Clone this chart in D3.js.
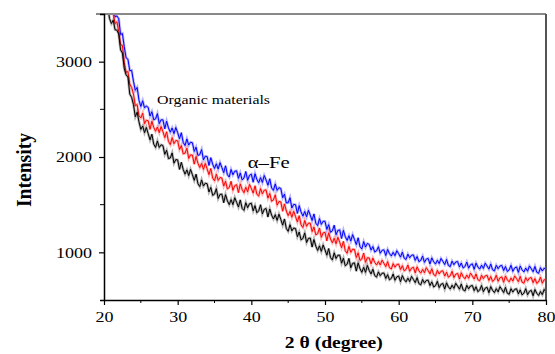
<!DOCTYPE html>
<html>
<head>
<meta charset="utf-8">
<script src="https://cdn.jsdelivr.net/npm/d3@7"></script>
<style>
  body { margin: 0; background: #fff; }
  svg text { font-family: "Liberation Serif", "Times New Roman", serif; fill: #000; }
</style>
</head>
<body>
<div id="chart"></div>
<script>
// 2θ sampling grid (degrees) and intensity readings, one value per 0.25°
const twoThetaStart = 20;
const twoThetaStep = 0.25;

const blueCounts = [
  3740, 3640, 3675, 3580, 3580, 3605, 3470, 3480, 3450, 3285, 3295, 3155, 3040, 3025, 2905, 2910,
  2795, 2700, 2730, 2595, 2530, 2590, 2515, 2535, 2520, 2430, 2475, 2390, 2400, 2455, 2350, 2390,
  2390, 2295, 2375, 2305, 2260, 2305, 2245, 2310, 2255, 2192, 2255, 2153, 2120, 2190, 2125, 2155,
  2150, 2059, 2103, 2016, 2025, 2078, 1970, 2008, 2005, 1911, 1993, 1924, 1880, 1929, 1873, 1941,
  1890, 1836, 1908, 1814, 1790, 1869, 1813, 1851, 1855, 1776, 1833, 1759, 1780, 1848, 1755, 1808,
  1820, 1735, 1825, 1765, 1730, 1784, 1733, 1806, 1760, 1704, 1772, 1676, 1650, 1718, 1650, 1678,
  1670, 1573, 1610, 1518, 1520, 1573, 1465, 1503, 1500, 1408, 1490, 1423, 1380, 1429, 1373, 1441,
  1390, 1334, 1403, 1306, 1280, 1354, 1293, 1326, 1325, 1240, 1290, 1210, 1225, 1285, 1185, 1230,
  1235, 1145, 1230, 1165, 1125, 1174, 1118, 1186, 1135, 1081, 1153, 1059, 1035, 1113, 1055, 1093,
  1083, 1024, 1061, 1004, 1016, 1059, 990, 1021, 1026, 966, 1030, 987, 962, 1000, 965, 1017,
  985, 950, 1003, 939, 925, 981, 943, 970, 973, 916, 956, 902, 916, 961, 895, 929,
  936, 878, 942, 901, 877, 917, 882, 936, 905, 872, 925, 863, 850, 908, 870, 899,
  903, 848, 888, 836, 851, 898, 834, 870, 879, 822, 887, 847, 824, 865, 831, 886,
  856, 824, 878, 817, 805, 864, 828, 857, 863, 809, 851, 799, 816, 864, 800, 837,
  847, 790, 856, 816, 794, 835, 802, 857, 828, 796, 852, 791, 780, 839, 804, 834,
  818
];

const redCounts = [
  3680, 3575, 3645, 3565, 3510, 3508, 3400, 3418, 3315, 3180, 3170, 2995, 2890, 2895, 2765, 2730,
  2660, 2538, 2550, 2433, 2410, 2460, 2350, 2385, 2380, 2290, 2375, 2310, 2270, 2315, 2255, 2320,
  2265, 2203, 2265, 2163, 2130, 2203, 2140, 2173, 2170, 2078, 2120, 2033, 2040, 2093, 1985, 2023,
  2020, 1925, 2005, 1935, 1890, 1933, 1870, 1933, 1875, 1815, 1880, 1780, 1750, 1820, 1755, 1785,
  1780, 1695, 1745, 1665, 1680, 1745, 1650, 1700, 1710, 1626, 1718, 1659, 1625, 1683, 1635, 1713,
  1670, 1621, 1698, 1609, 1590, 1669, 1613, 1651, 1655, 1569, 1618, 1536, 1550, 1603, 1495, 1533,
  1530, 1431, 1508, 1434, 1385, 1429, 1368, 1431, 1375, 1318, 1385, 1288, 1260, 1334, 1273, 1306,
  1305, 1218, 1265, 1183, 1195, 1256, 1158, 1204, 1210, 1120, 1205, 1140, 1100, 1148, 1090, 1158,
  1105, 1048, 1115, 1018, 990, 1063, 1000, 1033, 1030, 945, 995, 915, 930, 993, 895, 943,
  941, 879, 940, 894, 867, 904, 867, 918, 885, 850, 903, 839, 825, 882, 844, 872,
  876, 820, 860, 806, 821, 867, 801, 835, 843, 784, 848, 806, 782, 821, 786, 839,
  808, 775, 828, 766, 753, 811, 773, 802, 806, 751, 791, 739, 754, 801, 735, 771,
  779, 721, 786, 745, 722, 762, 728, 782, 752, 720, 774, 713, 701, 760, 724, 753,
  759, 705, 747, 695, 712, 760, 696, 733, 743, 686, 752, 712, 690, 731, 698, 753,
  724, 692, 748, 687, 676, 735, 700, 730, 736, 682, 725, 674, 691, 739, 676, 713,
  710
];

const blackCounts = [
  3615, 3533, 3575, 3453, 3400, 3435, 3335, 3330, 3290, 3123, 3090, 2928, 2860, 2840, 2660, 2625,
  2550, 2423, 2470, 2368, 2290, 2325, 2255, 2310, 2245, 2180, 2240, 2135, 2100, 2168, 2100, 2128,
  2120, 2028, 2070, 1983, 1990, 2043, 1935, 1973, 1970, 1870, 1945, 1870, 1820, 1865, 1805, 1870,
  1815, 1755, 1820, 1720, 1690, 1760, 1695, 1725, 1720, 1633, 1680, 1598, 1610, 1668, 1565, 1608,
  1610, 1520, 1605, 1540, 1500, 1553, 1500, 1573, 1525, 1475, 1550, 1460, 1440, 1521, 1468, 1509,
  1515, 1435, 1490, 1415, 1435, 1499, 1403, 1451, 1460, 1370, 1455, 1390, 1350, 1395, 1335, 1400,
  1345, 1285, 1350, 1250, 1220, 1290, 1225, 1255, 1250, 1164, 1213, 1131, 1145, 1204, 1103, 1146,
  1150, 1055, 1135, 1065, 1020, 1068, 1010, 1078, 1025, 970, 1040, 945, 920, 995, 935, 970,
  970, 886, 938, 859, 875, 936, 838, 884, 890, 803, 890, 828, 790, 843, 790, 863,
  810, 773, 823, 756, 740, 795, 755, 781, 783, 726, 766, 712, 726, 773, 707, 743,
  751, 692, 756, 714, 690, 729, 694, 747, 716, 682, 735, 672, 659, 716, 677, 705,
  708, 651, 690, 636, 650, 696, 630, 665, 673, 615, 680, 638, 615, 655, 622, 676,
  646, 614, 668, 607, 595, 654, 617, 647, 652, 598, 639, 588, 604, 652, 587, 624,
  633, 576, 641, 601, 578, 619, 585, 640, 610, 578, 633, 571, 560, 619, 583, 612,
  618, 564, 606, 554, 571, 619, 555, 591, 601, 544, 610, 570, 548, 589, 556, 611,
  580
];

const xTicks = [20, 30, 40, 50, 60, 70, 80];
const xMinorTicks = [25, 35, 45, 55, 65, 75];
const yTicks = [1000, 2000, 3000];
const yMinorTicks = [1500, 2500];

const series = [
  { name: 'blue', color: '#0000ff', values: blueCounts },
  { name: 'red', color: '#ff0000', values: redCounts },
  { name: 'black', color: '#000000', values: blackCounts },
];

const width = 555;
const height = 354;
const margin = { top: 14, right: 9, bottom: 54, left: 104 };
const innerW = width - margin.left - margin.right;
const innerH = height - margin.top - margin.bottom;

const svg = d3.select('#chart')
  .append('svg')
  .attr('width', width)
  .attr('height', height);

const g = svg.append('g')
  .attr('transform', `translate(${margin.left},${margin.top})`);

const x = d3.scaleLinear().domain([20, 80]).range([0, innerW]);
const y = d3.scaleLinear().domain([500, 3500]).range([innerH, 0]);

// squeeze / stretch text to the width it has in the original
function widen(sel, k) {
  sel.each(function () {
    const w = this.getComputedTextLength();
    d3.select(this)
      .attr('textLength', w * k)
      .attr('lengthAdjust', 'spacingAndGlyphs');
  });
}
function fitText(sel, w) {
  sel.attr('textLength', w).attr('lengthAdjust', 'spacingAndGlyphs');
}

g.append('clipPath')
  .attr('id', 'plotClip')
  .append('rect')
  .attr('width', innerW)
  .attr('height', innerH);

const line = d3.line()
  .x((d, i) => x(twoThetaStart + i * twoThetaStep))
  .y((d) => y(d));

const plot = g.append('g').attr('clip-path', 'url(#plotClip)');
series.forEach((s) => {
  // soft fringe like the scanned trace
  plot.append('path')
    .datum(s.values)
    .attr('fill', 'none')
    .attr('stroke', s.color)
    .attr('stroke-opacity', 0.3)
    .attr('stroke-width', 2.6)
    .attr('d', line);
  plot.append('path')
    .datum(s.values)
    .attr('fill', 'none')
    .attr('stroke', s.color)
    .attr('stroke-width', 1)
    .attr('stroke-linejoin', 'bevel')
    .attr('d', line);
});

// frame: grey top and right edges
g.append('line')
  .attr('x1', -8).attr('x2', innerW)
  .attr('y1', 0).attr('y2', 0)
  .attr('stroke', '#888')
  .attr('stroke-width', 2);
g.append('line')
  .attr('x1', innerW).attr('x2', innerW)
  .attr('y1', 0).attr('y2', innerH)
  .attr('stroke', '#555')
  .attr('stroke-width', 2);

// x axis
const xAxis = g.append('g')
  .attr('transform', `translate(0,${innerH})`)
  .call(d3.axisBottom(x).tickValues(xTicks).tickSize(5).tickSizeOuter(0)
    .tickPadding(6).tickFormat(d3.format('d')));
xAxis.append('g')
  .selectAll('line')
  .data(xMinorTicks)
  .join('line')
  .attr('x1', (d) => x(d)).attr('x2', (d) => x(d))
  .attr('y1', 0).attr('y2', 3)
  .attr('stroke', '#000');

// y axis
const yAxis = g.append('g')
  .call(d3.axisLeft(y).tickValues(yTicks).tickSize(5).tickSizeOuter(4)
    .tickPadding(7).tickFormat(d3.format('d')));
yAxis.append('g')
  .selectAll('line')
  .data(yMinorTicks)
  .join('line')
  .attr('x1', 0).attr('x2', -4)
  .attr('y1', (d) => y(d)).attr('y2', (d) => y(d))
  .attr('stroke', '#000');

[xAxis, yAxis].forEach((ax) => {
  ax.attr('font-family', null);
  ax.select('.domain').attr('stroke-width', 1.5);
  ax.selectAll('.tick line').attr('stroke-width', 1.2);
  ax.selectAll('.tick text')
    .style('font-family', '"Liberation Serif", "Times New Roman", serif')
    .style('font-size', '15px');
});
xAxis.selectAll('.tick text').call(widen, 1.2);
yAxis.selectAll('.tick text').call(widen, 1.2);

// axis titles
svg.append('text')
  .attr('x', margin.left + x(51.2))
  .attr('y', 348)
  .attr('text-anchor', 'middle')
  .style('font-size', '16px')
  .style('font-weight', 'bold')
  .text('2 θ (degree)')
  .call(fitText, 98);

svg.append('text')
  .attr('transform', 'translate(31,170) rotate(-90)')
  .attr('text-anchor', 'middle')
  .style('font-size', '22px')
  .style('font-weight', 'bold')
  .text('Intensity')
  .call(fitText, 74);

// annotations
g.append('text')
  .attr('x', x(27.2))
  .attr('y', y(2560))
  .style('font-size', '13px')
  .text('Organic materials')
  .call(fitText, 113);

g.append('text')
  .attr('x', x(39.5))
  .attr('y', y(1885))
  .style('font-size', '16px')
  .text('α–Fe')
  .call(fitText, 42);
</script>
</body>
</html>
